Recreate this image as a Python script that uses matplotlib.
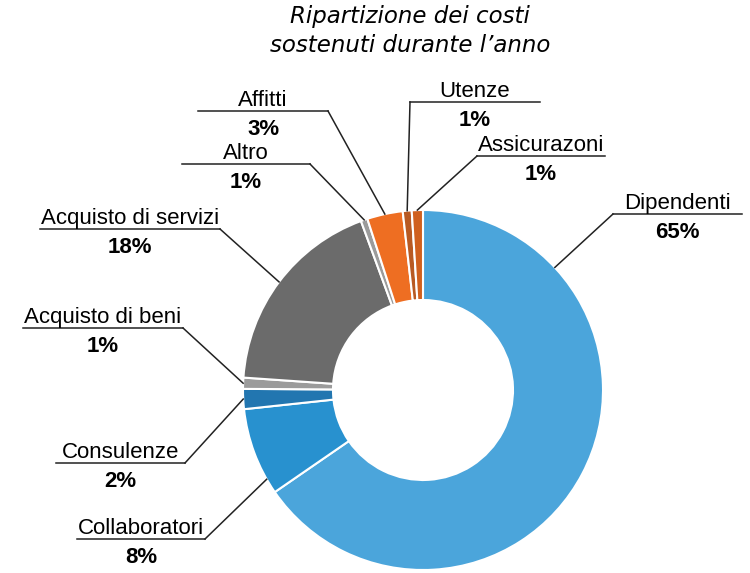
import numpy as np
import matplotlib
matplotlib.use('Agg')
import matplotlib.pyplot as plt

categories = ['Dipendenti', 'Collaboratori', 'Consulenze', 'Acquisto di beni',
              'Acquisto di servizi', 'Altro', 'Affitti', 'Utenze', 'Assicurazoni']
shares = [65.4, 7.9, 1.8, 1.0, 18.3, 0.6, 3.2, 0.8, 1.0]
colors = ['#4BA5DB', '#2891CF', '#2276B0', '#9B9B9B', '#6B6B6B',
          '#9B9B9B', '#EE6E22', '#B85A23', '#D0601E']

# label layout in pixel coords (y from top): line x0, x1, line y, anchor fraction in wedge
label_layout = {
    'Dipendenti':          (613, 742, 214, 0.20),
    'Collaboratori':       (77, 205, 539, 0.17),
    'Consulenze':          (56, 185, 463, 0.5),
    'Acquisto di beni':    (23, 183, 328, 0.5),
    'Acquisto di servizi': (40, 220, 229, 0.5),
    'Altro':               (182, 310, 164, 0.5),
    'Affitti':             (198, 328, 111, 0.5),
    'Utenze':              (410, 540, 102, 0.5),
    'Assicurazoni':        (477, 605, 156, 0.5),
}

W, H = 750, 573
cx, cy, R = 423, H - 390, 180

fig = plt.figure(figsize=(7.5, 5.73), dpi=100)
ax = fig.add_axes([0, 0, 1, 1])
ax.pie(shares, colors=colors, startangle=90, counterclock=False,
       radius=R, center=(cx, cy), normalize=True,
       wedgeprops=dict(width=R / 2, edgecolor='white', linewidth=1.5))
ax.set_xlim(0, W)
ax.set_ylim(0, H)
ax.set_aspect('equal')
ax.axis('off')

total = sum(shares)
start = 0.0
for name, val in zip(categories, shares):
    x0, x1, ly, frac = label_layout[name]
    ang = np.deg2rad((start + val * frac) / total * 360)
    start += val
    ax_pt = (cx + R * np.sin(ang), cy + R * np.cos(ang))
    ly = H - ly
    # elbow is the line end closest to the pie
    ex = x1 if x1 < cx else x0
    ax.plot([x0, x1], [ly, ly], color='#222222', lw=1.1)
    ax.plot([ex, ax_pt[0]], [ly, ax_pt[1]], color='#222222', lw=1.1)
    mid = (x0 + x1) / 2
    ax.text(mid, ly + 5, name, ha='center', va='baseline', fontsize=16,
            family='Liberation Sans')
    ax.text(mid, ly - 8, '%d%%' % round(val / total * 100), ha='center',
            va='top', fontsize=16, fontweight='bold', family='Liberation Sans')

ax.text(410, H - 31, 'Ripartizione dei costi\nsostenuti durante l\u2019anno',
        ha='center', va='center', fontsize=16.5, style='italic',
        family='DejaVu Sans', linespacing=1.3)

fig.savefig('out.png', dpi=100)
